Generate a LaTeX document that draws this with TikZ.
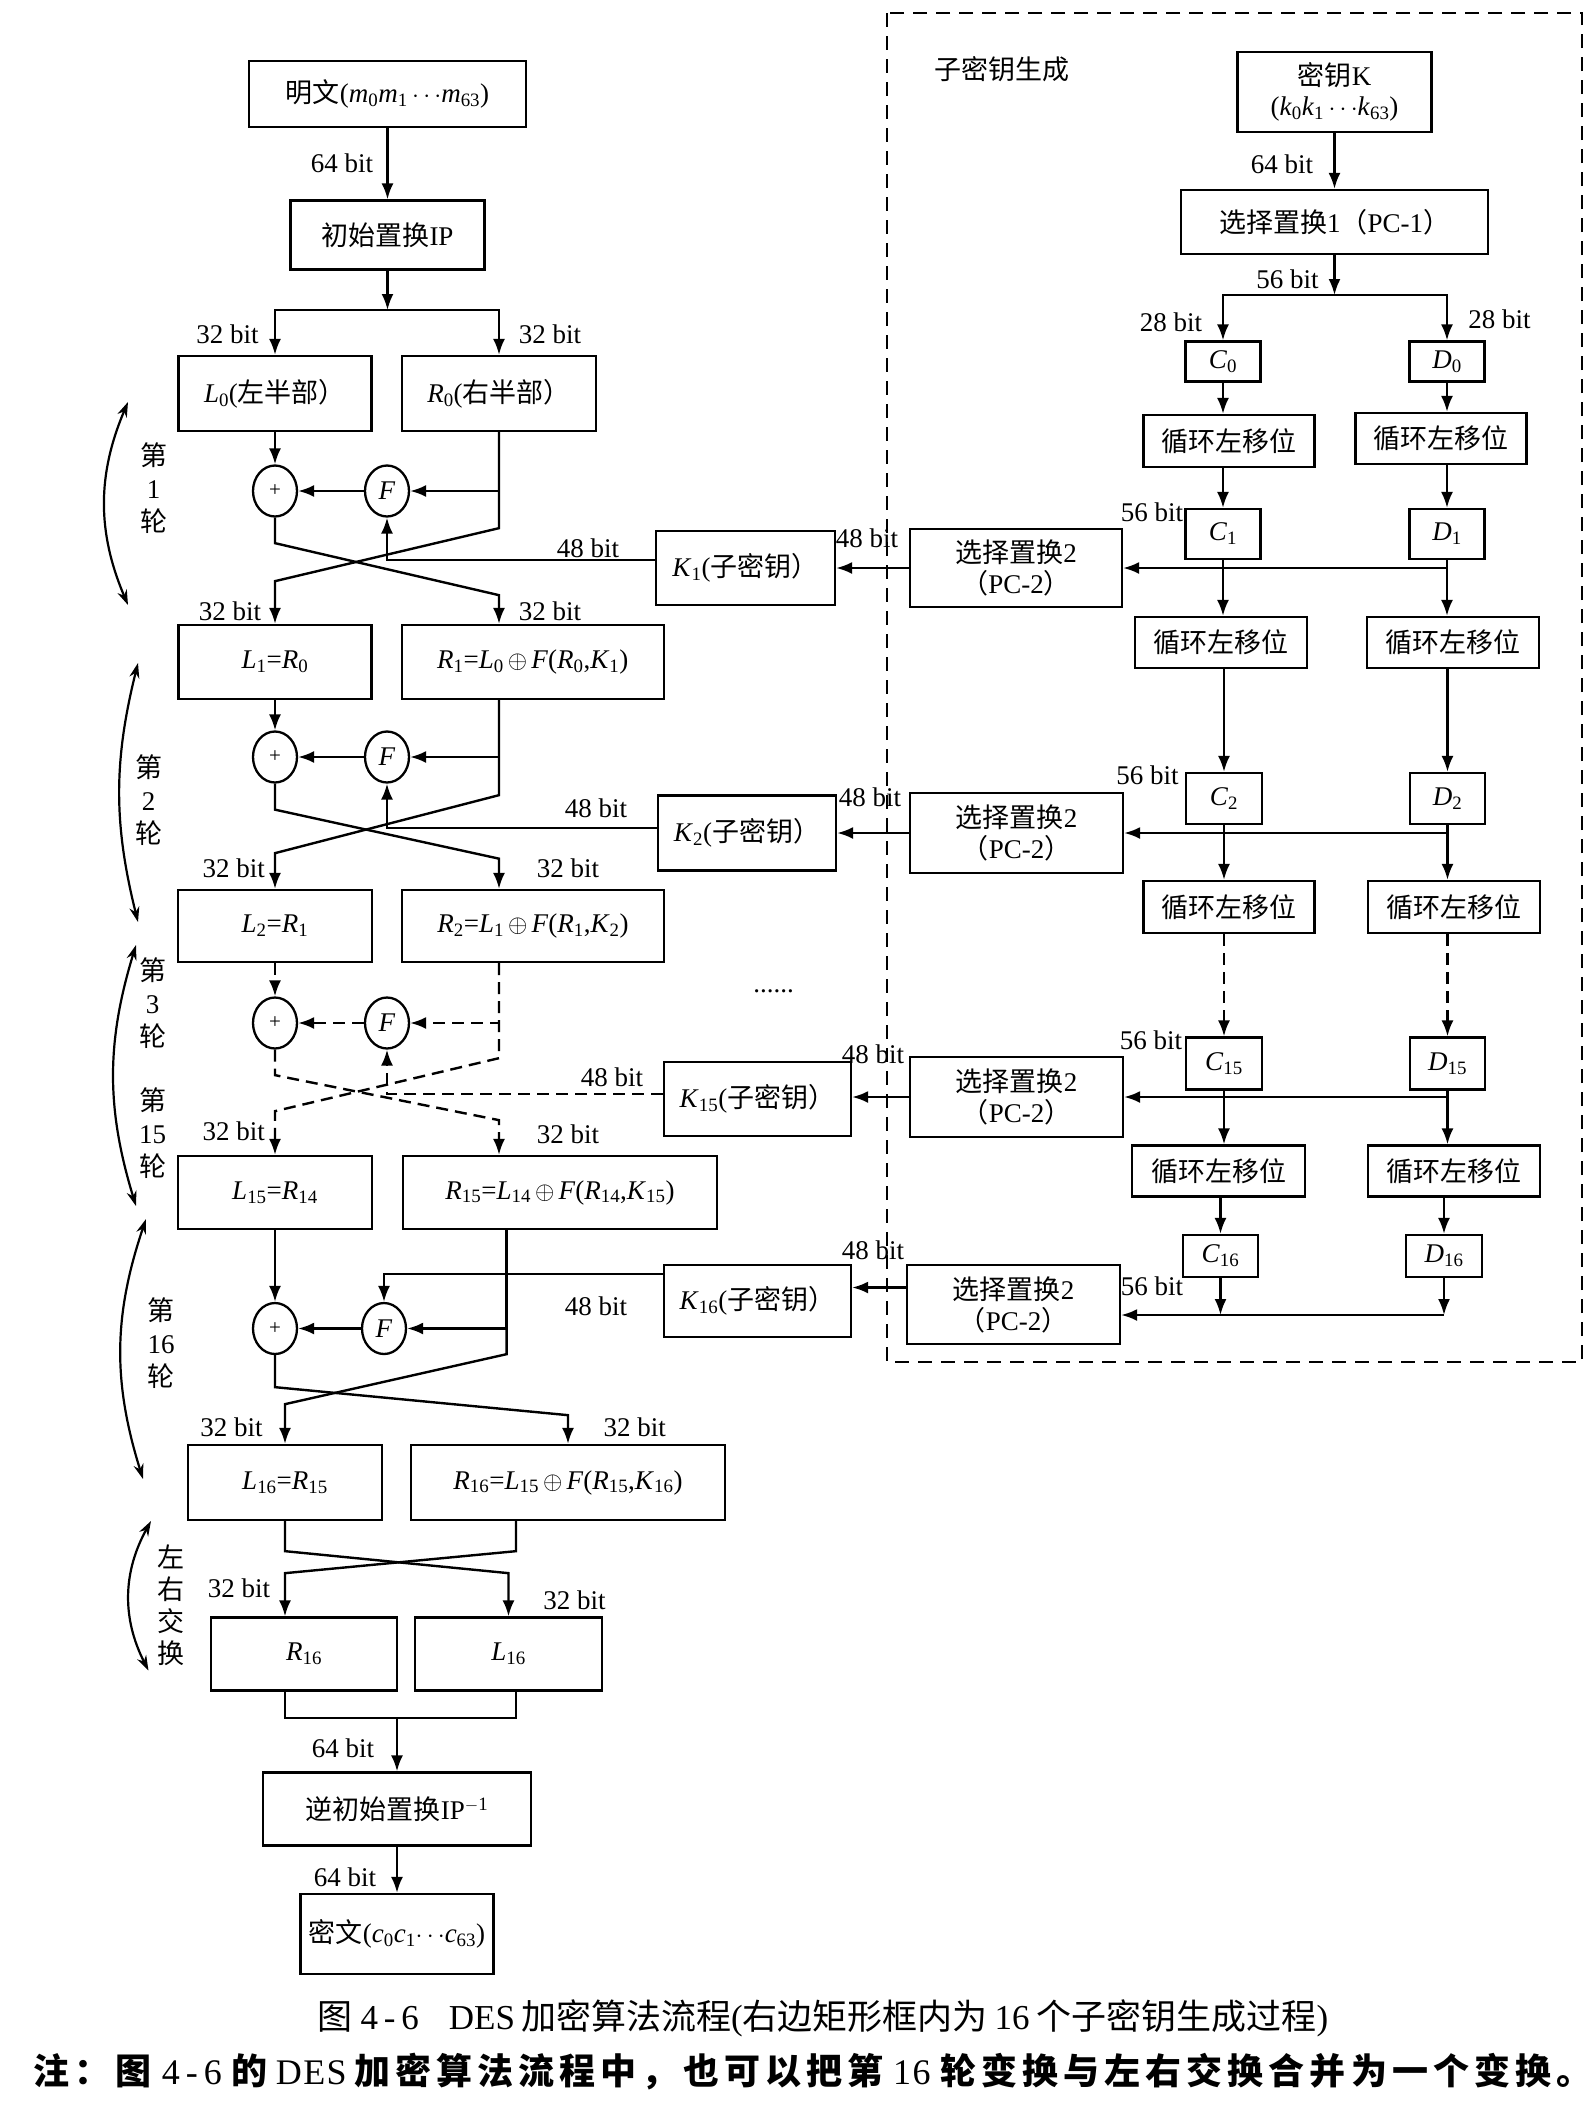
\documentclass[tikz,border=0pt]{standalone}
\usepackage{fontspec}
\setmainfont{Liberation Serif}
\newfontfamily\cjkfont{Noto Sans CJK SC}
\newfontfamily\notecjk[LetterSpace=14]{Noto Sans CJK SC}
\newfontfamily\notelat[LetterSpace=4]{Liberation Serif}
\newcommand\zh[1]{{\cjkfont #1}}
\newcommand\nz[1]{{\notecjk\bfseries #1}}
\newcommand\vr[2]{\textit{#1}\textsubscript{#2}}
\usetikzlibrary{arrows.meta,calc,shapes.geometric}

\tikzset{
  every node/.style={font=\fontsize{27}{33}\selectfont},
  sz/.style 2 args={minimum width=#1pt, minimum height=#2pt},
  box/.style={draw, line width=2.3pt, inner sep=0pt, align=center},
  op/.style={draw, ellipse, line width=2.3pt, inner sep=0pt, minimum width=44pt, minimum height=51pt},
  lab/.style={inner sep=0pt},
  turn/.style={inner sep=0pt, align=center, font=\fontsize{27}{33}\selectfont},
  arr/.style={line width=2.4pt, -{Latex[length=16pt,width=12pt]}},
  dsh/.style={dash pattern=on 12pt off 7pt},
  bow/.style={line width=2.2pt, {Stealth[length=15pt,width=10pt]}-{Stealth[length=15pt,width=10pt]}},
}

\begin{document}
\begin{tikzpicture}[x=1pt, y=-1pt, line width=2.4pt, line join=miter]
\useasboundingbox (0,0) rectangle (1592,2107);

% key frame
\draw[line width=2pt, dash pattern=on 14pt off 9pt] (887,13) rectangle (1582,1362);
\node[lab] (sub) at (1002,69) {\zh{子密钥生成}};

% ---- data path ----
\coordinate (lcol) at (275,0);
\coordinate (rcol) at (499,0);
\node[box, sz={277}{66}] (pt) at (387.5,94) {\zh{明文}(\vr{m}{0}\vr{m}{1}\,$\cdots$\vr{m}{63})};
\node[box, sz={194}{69}] (ip) at (387.5,235) {\zh{初始置换}IP};
\coordinate (s0) at (387.5,310);
\node[box, sz={193}{75}] (L0) at (275,393.5) {\vr{L}{0}(\zh{左半部）}};
\node[box, sz={194}{75}] (R0) at (499,393.5) {\vr{R}{0}(\zh{右半部）}};

\node[op] (x1) at (275,491) {\fontsize{21}{21}\selectfont +};
\node[op] (f1) at (387,491) {\textit{F}};
\node[box, sz={179}{74}] (K1) at (745.5,568) {\vr{K}{1}(\zh{子密钥）}};
\node[box, sz={193}{74}] (L1) at (275,662) {\vr{L}{1}=\vr{R}{0}};
\node[box, sz={262}{74}] (R1) at (532.75,662) {\vr{R}{1}=\vr{L}{0}$\,\oplus\,$\textit{F}(\vr{R}{0},\vr{K}{1})};

\node[op] (x2) at (275,757) {\fontsize{21}{21}\selectfont +};
\node[op] (f2) at (387,757) {\textit{F}};
\node[box, sz={178}{75}] (K2) at (747,833) {\vr{K}{2}(\zh{子密钥）}};
\node[box, sz={194}{72}] (L2) at (275,926) {\vr{L}{2}=\vr{R}{1}};
\node[box, sz={262}{72}] (R2) at (533,926) {\vr{R}{2}=\vr{L}{1}$\,\oplus\,$\textit{F}(\vr{R}{1},\vr{K}{2})};

\node[op] (x3) at (275,1023) {\fontsize{21}{21}\selectfont +};
\node[op] (f3) at (387,1023) {\textit{F}};
\node[lab] (dots) at (773.5,991.5) {......};
\node[box, sz={187}{74}] (K15) at (757.5,1099) {\vr{K}{15}(\zh{子密钥）}};
\node[box, sz={194}{73}] (L15) at (275,1192.5) {\vr{L}{15}=\vr{R}{14}};
\node[box, sz={314}{73}] (R15) at (560,1192.5) {\vr{R}{15}=\vr{L}{14}$\,\oplus\,$\textit{F}(\vr{R}{14},\vr{K}{15})};

\node[op] (x16) at (275,1328.5) {\fontsize{21}{21}\selectfont +};
\node[op] (f16) at (384,1328.5) {\textit{F}};
\node[box, sz={187}{72}] (K16) at (757.5,1301) {\vr{K}{16}(\zh{子密钥）}};
\node[box, sz={194}{75}] (L16) at (285,1482.5) {\vr{L}{16}=\vr{R}{15}};
\node[box, sz={314}{75}] (R16) at (568,1482.5) {\vr{R}{16}=\vr{L}{15}$\,\oplus\,$\textit{F}(\vr{R}{15},\vr{K}{16})};

\node[box, sz={186}{73}] (sR) at (304,1654) {\vr{R}{16}};
\node[box, sz={187}{73}] (sL) at (508.5,1654) {\vr{L}{16}};
\coordinate (mg) at (397,1718);
\node[box, sz={268}{73}] (ipi) at (397,1809) {\zh{逆初始置换}IP\textsuperscript{$-$1}};
\node[box, sz={193}{80}] (ct) at (397,1934) {\zh{密文}(\vr{c}{0}\vr{c}{1}$\cdots$\vr{c}{63})};

\draw[arr] (pt) -- (ip);
\draw[arr] (ip) -- (s0);
\draw[arr] (s0) -| (L0);
\draw[arr] (s0) -| (R0);

% round 1
\draw[arr] (L0) -- (x1);
\draw[arr] (R0) |- (f1);
\draw[arr] (f1) -- (x1);
\draw[arr] (R0.south) -- ++(0,96) -- ++(-224,53) -- (lcol |- L1.north);
\draw[arr] (x1.south) -- ++(0,25.5) -- ++(224,52) -- (rcol |- R1.north);
\draw[arr] ([yshift=8pt]K1.west) -| (f1.south);

% round 2
\draw[arr] (L1) -- (x2);
\draw[arr] (rcol |- R1.south) |- (f2);
\draw[arr] (f2) -- (x2);
\draw[arr] (rcol |- R1.south) -- ++(0,95) -- ++(-224,58) -- (lcol |- L2.north);
\draw[arr] (x2.south) -- ++(0,26) -- ++(224,49) -- (rcol |- R2.north);
\draw[arr] ([yshift=5pt]K2.west) -| (f2.south);

% rounds 3..15
\draw[arr,dsh] (L2) -- (x3);
\draw[arr,dsh] (rcol |- R2.south) |- (f3);
\draw[arr,dsh] (f3) -- (x3);
\draw[arr,dsh] (rcol |- R2.south) -- ++(0,95) -- ++(-224,53) -- (lcol |- L15.north);
\draw[arr,dsh] (x3.south) -- ++(0,25.5) -- ++(224,45) -- (rcol |- R15.north);
\draw[arr,dsh] ([yshift=5pt]K15.west) -| (f3.south);

% round 16
\draw[arr] (L15) -- (x16);
\draw[arr] ([xshift=-53.4pt]R15.south) |- (f16);
\draw[arr] (f16) -- (x16);
\draw[arr] ([xshift=-53.4pt]R15.south) -- ++(0,124) -- ++(-221.6,50) -- (L16.north);
\draw[arr] (x16.south) -- ++(0,32) -- ++(293,28) -- (R16.north);
\draw[arr] ([yshift=27pt]K16.west) -| (f16.north);

% swap and output
\draw[arr] (L16.south) -- ++(0,30) -- ++(223.5,22) -- (sL.north);
\draw[arr] ([xshift=-52pt]R16.south) -- ++(0,30) -- ++(-231,22) -- (L16.south |- sR.north);
\draw (L16.south |- sR.south) |- (mg) -| ([xshift=7.5pt]sL.south);
\draw[arr] (mg) -- (ipi);
\draw[arr] (ipi) -- (ct);

% ---- key schedule ----
\node[box, sz={194}{80}] (key) at (1334.5,92) {\zh{密钥}K\\[-3pt](\vr{k}{0}\vr{k}{1}\,$\cdots$\vr{k}{63})};
\node[box, sz={307}{64}] (pc1) at (1334.5,222) {\zh{选择置换}1\zh{（}PC-1\zh{）}};
\coordinate (s1) at (1334.5,295);
\node[box, sz={75}{40}] (C0) at (1223,361.5) {\vr{C}{0}};
\node[box, sz={75}{40}] (D0) at (1447,361.5) {\vr{D}{0}};
\node[box, sz={171}{52}] (sc1) at (1229,441) {\zh{循环左移位}};
\node[box, sz={171}{51}] (sd1) at (1441,438.5) {\zh{循环左移位}};
\node[box, sz={75}{50}] (C1) at (1223,534) {\vr{C}{1}};
\node[box, sz={75}{50}] (D1) at (1447,534) {\vr{D}{1}};
\node[box, sz={212}{78}] (pc21) at (1016,568) {\zh{选择置换}2\\[-2pt]\zh{（}PC-2\zh{）}};
\node[box, sz={172}{51}] (sc2) at (1221,642.5) {\zh{循环左移位}};
\node[box, sz={172}{51}] (sd2) at (1453,642.5) {\zh{循环左移位}};
\node[box, sz={76}{51}] (C2) at (1224,798.5) {\vr{C}{2}};
\node[box, sz={75}{51}] (D2) at (1447.5,798.5) {\vr{D}{2}};
\node[box, sz={213}{80}] (pc22) at (1016.5,833) {\zh{选择置换}2\\[-2pt]\zh{（}PC-2\zh{）}};
\node[box, sz={171}{52}] (sc3) at (1229,907) {\zh{循环左移位}};
\node[box, sz={172}{52}] (sd3) at (1454,907) {\zh{循环左移位}};
\node[box, sz={76}{52}] (C15) at (1224,1063.5) {\vr{C}{15}};
\node[box, sz={75}{52}] (D15) at (1447.5,1063.5) {\vr{D}{15}};
\node[box, sz={213}{80}] (pc23) at (1016.5,1097) {\zh{选择置换}2\\[-2pt]\zh{（}PC-2\zh{）}};
\node[box, sz={173}{51}] (sc4) at (1218.5,1171) {\zh{循环左移位}};
\node[box, sz={172}{51}] (sd4) at (1454,1171) {\zh{循环左移位}};
\node[box, sz={75}{42}] (C16) at (1220.5,1256) {\vr{C}{16}};
\node[box, sz={76}{42}] (D16) at (1444,1256) {\vr{D}{16}};
\node[box, sz={213}{79}] (pc24) at (1013.5,1304.5) {\zh{选择置换}2\\[-2pt]\zh{（}PC-2\zh{）}};
\coordinate (s16) at (1444,1315);

\draw[arr] (key) -- (pc1);
\draw[arr] (pc1) -- (s1);
\draw[arr] (s1) -| (C0);
\draw[arr] (s1) -| (D0);
\draw[arr] (C0) -- (C0 |- sc1.north);
\draw[arr] (D0) -- (D0 |- sd1.north);
\draw[arr] (C1 |- sc1.south) -- (C1);
\draw[arr] (D1 |- sd1.south) -- (D1);
\draw[arr] (D1.south) |- (pc21);
\draw[arr] (pc21) -- (K1);
\draw[arr] (C1) -- (C1 |- sc2.north);
\draw[arr] (D1) -- (D1 |- sd2.north);
\draw[arr] (C2 |- sc2.south) -- (C2);
\draw[arr] (D2 |- sd2.south) -- (D2);
\draw[arr] (D2.south) |- (pc22);
\draw[arr] (pc22) -- (K2);
\draw[arr] (C2) -- (C2 |- sc3.north);
\draw[arr] (D2) -- (D2 |- sd3.north);
\draw[arr,dsh] (C15 |- sc3.south) -- (C15);
\draw[arr,dsh] (D15 |- sd3.south) -- (D15);
\draw[arr] (D15.south) |- (pc23);
\draw[arr] (pc23) -- (pc23 -| K15.east);
\draw[arr] (C15) -- (C15 |- sc4.north);
\draw[arr] (D15) -- (D15 |- sd4.north);
\draw[arr] (C16 |- sc4.south) -- (C16);
\draw[arr] (D16 |- sd4.south) -- (D16);
\draw[arr] (C16) -- (C16 |- s16);
\draw[arr] (D16) -- (s16);
\draw[arr] (s16) -- (s16 -| pc24.east);
\draw[arr] ([yshift=17pt]pc24.west) -- ([yshift=17pt]pc24.west -| K16.east);

% bit labels
\node[lab] at (342,163) {64 bit};
\node[lab] at (227.5,334) {32 bit};
\node[lab] at (550,334) {32 bit};
\node[lab] at (588,548) {48 bit};
\node[lab] at (867,538) {48 bit};
\node[lab] at (230,611) {32 bit};
\node[lab] at (550,611) {32 bit};
\node[lab] at (596,808.5) {48 bit};
\node[lab] at (870,797) {48 bit};
\node[lab] at (233.7,868.7) {32 bit};
\node[lab] at (568,868.7) {32 bit};
\node[lab] at (612,1077.6) {48 bit};
\node[lab] at (873,1054) {48 bit};
\node[lab] at (233.7,1131) {32 bit};
\node[lab] at (568,1134) {32 bit};
\node[lab] at (596,1306) {48 bit};
\node[lab] at (873,1250) {48 bit};
\node[lab] at (231.6,1427) {32 bit};
\node[lab] at (634.7,1427) {32 bit};
\node[lab] at (239,1588) {32 bit};
\node[lab] at (574.5,1600) {32 bit};
\node[lab] at (343,1748.6) {64 bit};
\node[lab] at (345,1877) {64 bit};
\node[lab] at (1282,164) {64 bit};
\node[lab] at (1287.5,279) {56 bit};
\node[lab] at (1171,322) {28 bit};
\node[lab] at (1499.5,319) {28 bit};
\node[lab] at (1152,512.5) {56 bit};
\node[lab] at (1147.5,775) {56 bit};
\node[lab] at (1151,1040.6) {56 bit};
\node[lab] at (1152,1286) {56 bit};

% round marks
\draw[bow] (128,402) to[bend right=23] (128,605);
\node[turn] at (153.5,488) {\zh{第}\\1\\\zh{轮}};
\draw[bow] (138,663) to[bend right=14] (138,922);
\node[turn] at (148.5,800) {\zh{第}\\2\\\zh{轮}};
\draw[bow] (136,945) to[bend right=17] (136,1206);
\node[turn] at (152.5,1003.5) {\zh{第}\\3\\\zh{轮}};
\node[turn] at (152.5,1133.5) {\zh{第}\\15\\\zh{轮}};
\draw[bow] (146,1219) to[bend right=18] (143,1479);
\node[turn] at (161,1343) {\zh{第}\\16\\\zh{轮}};
\draw[bow] (151,1521) to[bend right=28] (148.5,1670.5);
\node[turn, font=\fontsize{27}{32}\selectfont] at (171,1605) {\zh{左}\\\zh{右}\\\zh{交}\\\zh{换}};

% caption and note
\node[lab, font=\fontsize{35}{40}\selectfont] (cap) at (823,2018) {\zh{图}\hspace{8pt}4\,-\,6\hspace{30pt}DES\hspace{6pt}\zh{加密算法流程}(\zh{右边矩形框内为}\hspace{7pt}16\hspace{7pt}\zh{个子密钥生成过程})};
\node[lab, font=\fontsize{36}{42}\selectfont\notelat] (note) at (813,2072) {\nz{注：图}\hspace{10pt}4\,-\,6\hspace{10pt}\nz{的}\hspace{8pt}DES\hspace{8pt}\nz{加密算法流程中，也可以把第}\hspace{10pt}16\hspace{10pt}\nz{轮变换与左右交换合并为一个变换。}};
\end{tikzpicture}
\end{document}
